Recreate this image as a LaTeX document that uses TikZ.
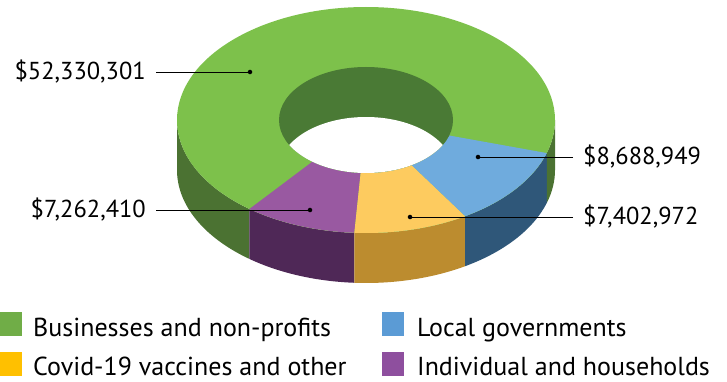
\documentclass[tikz,border=0pt]{standalone}
\usepackage{fontspec}
\setmainfont{PT Sans}
\definecolor{bizTop}{HTML}{7DC14B}
\definecolor{bizSide}{HTML}{4B7232}
\definecolor{bizWall}{HTML}{4A7A35}
\definecolor{locTop}{HTML}{6FABDD}
\definecolor{locSide}{HTML}{2F5779}
\definecolor{vacTop}{HTML}{FDCB5F}
\definecolor{vacSide}{HTML}{BC8C2F}
\definecolor{indTop}{HTML}{9959A1}
\definecolor{indSide}{HTML}{4F2857}
\definecolor{bizKey}{HTML}{70AD47}
\definecolor{locKey}{HTML}{5B9BD5}
\definecolor{vacKey}{HTML}{FFC000}
\definecolor{indKey}{HTML}{8E4F9E}
\begin{document}
\begin{tikzpicture}[x=1pt, y=1pt,
	dot/.style={circle,fill,inner sep=1.6pt},
	amount/.style={font=\fontsize{24.5}{28}\selectfont, inner xsep=10pt},
	keysq/.style={minimum width=22pt, minimum height=24pt, inner sep=0pt},
	keytxt/.style={anchor=base west, inner sep=0pt, font=\fontsize{26}{30}\selectfont}]
				\useasboundingbox (0,0) rectangle (727,381);
				
				%side walls (front half only)
				\foreach \a/\b/\c in {-180/-128.08/bizSide, -128.08/-93.54/indSide, -93.54/-58.33/vacSide, -58.33/-17/locSide, -17/0/bizSide}{
					\fill[\c] ([shift={(366,261)}]\a:189 and 113) arc[start angle=\a, end angle=\b, x radius=189, y radius=113]
						-- ++(0,-50) arc[start angle=\b, end angle=\a, x radius=189, y radius=113] -- cycle;
				}
				
				%top ring
				\fill[bizTop] (366,261) ellipse[x radius=189, y radius=113];
				\foreach \a/\b/\c in {-128.08/-93.54/indTop, -93.54/-58.33/vacTop, -58.33/-17/locTop}{
					\fill[\c] ([shift={(366,261)}]\a:189 and 113) arc[start angle=\a, end angle=\b, x radius=189, y radius=113]
						-- ([shift={(366,261)}]\b:87 and 53) arc[start angle=\b, end angle=\a, x radius=87, y radius=53] -- cycle;
				}
				
				%hole
				\fill[bizWall] (366,261) ellipse[x radius=87, y radius=53];
				\begin{scope}
					\clip (366,261) ellipse[x radius=87, y radius=53];
					\fill[white] (366,211) ellipse[x radius=87, y radius=53];
				\end{scope}
				
				%amounts
				\node at (250,309) [dot] (dotBiz) {};
				\node at (310,171) [dot] (dotInd) {};
				\node at (478,224) [dot] (dotLoc) {};
				\node at (410,164) [dot] (dotVac) {};
				\node at (156,309) [amount, anchor=east] (lblBiz) {\$52,330,301};
				\node at (156,171) [amount, anchor=east] (lblInd) {\$7,262,410};
				\node at (573,224) [amount, anchor=west] (lblLoc) {\$8,688,949};
				\node at (573,164) [amount, anchor=west] (lblVac) {\$7,402,972};
				\draw[thin] (lblBiz.east) -- (dotBiz);
				\draw[thin] (lblInd.east) -- (dotInd);
				\draw[thin] (lblLoc.west) -- (dotLoc);
				\draw[thin] (lblVac.west) -- (dotVac);
				
				%legend
				\node at (11,57) [keysq, fill=bizKey] (keyBiz) {};
				\node at (11,17) [keysq, fill=vacKey] (keyVac) {};
				\node at (393,57) [keysq, fill=locKey] (keyLoc) {};
				\node at (393,17) [keysq, fill=indKey] (keyInd) {};
				\node at (33,45) [keytxt] (txtBiz) {Businesses and non-profits};
				\node at (33,6) [keytxt] (txtVac) {Covid-19 vaccines and other};
				\node at (417,45) [keytxt] (txtLoc) {Local governments};
				\node at (417,6) [keytxt] (txtInd) {Individual and households};
			\end{tikzpicture}
\end{document}
